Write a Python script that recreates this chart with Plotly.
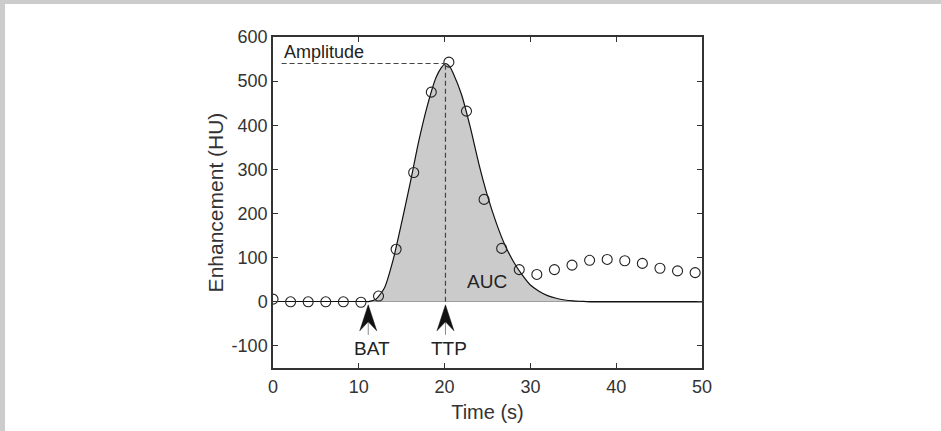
import plotly.graph_objects as go

# Measured samples (time in s, enhancement in HU)
time_s = [0, 2.05, 4.1, 6.15, 8.2, 10.25, 12.3, 14.35, 16.4, 18.45, 20.5, 22.55,
          24.6, 26.65, 28.7, 30.75, 32.8, 34.85, 36.9, 38.95, 41.0, 43.05, 45.1, 47.15, 49.2]
enh_hu = [6, 0, 0, 0, 0, -1, 13, 119, 293, 475, 543, 432,
          232, 121, 73, 62, 73, 83, 94, 96, 93, 87, 76, 70, 66]

# Fitted bolus curve
fit_t = [11.0, 12.0, 13.0, 14.0, 15.0, 16.0, 17.0, 18.0, 19.0, 19.6, 20.1, 20.6, 21.0, 22.0,
         23.0, 24.0, 25.0, 26.0, 27.0, 28.0, 29.0, 30.0, 31.0, 32.0, 33.0, 34.0, 35.0, 36.0,
         37.0, 38.0, 50.0]
fit_y = [0, 6, 32, 95, 180, 270, 365, 445, 508, 530, 540, 533, 518, 468,
         395, 312, 240, 180, 130, 92, 62, 38, 24, 14, 8, 4, 2, 1,
         0, 0, 0]

BAT = 11.1
TTP = 20.1
AMP = 540
AMP_LINE_START = 1.0

x_ticks = [0, 10, 20, 30, 40, 50]
y_ticks = [-100, 0, 100, 200, 300, 400, 500, 600]
y_tick_text = ["-100", "0", "100", "200", "300", "400", "500", "600"]

FONT = "Arial, Liberation Sans, sans-serif"
W, H = 941, 431
ML, MR, MT, MB = 273, 239, 37, 63

fig = go.Figure()

fig.add_trace(go.Scatter(
    x=fit_t, y=fit_y, mode="lines", line=dict(color="#111", width=1.2, shape="spline", smoothing=0.6),
    fill="tozeroy", fillcolor="#cbcbcb", hoverinfo="skip", showlegend=False))

fig.add_trace(go.Scatter(
    x=time_s, y=enh_hu, mode="markers",
    marker=dict(symbol="circle-open", size=10, color="#222", line=dict(width=1.1)),
    showlegend=False))

# dashed amplitude / TTP guides
fig.add_shape(type="line", x0=AMP_LINE_START, x1=TTP, y0=AMP, y1=AMP,
              line=dict(color="#444", width=1.2, dash="5px,3px"))
fig.add_shape(type="line", x0=TTP, x1=TTP, y0=0, y1=AMP,
              line=dict(color="#444", width=1.2, dash="5px,3px"))

# arrows (pixel-sized glyphs anchored at BAT/TTP on the baseline)
for xv, lab in [(BAT, "BAT"), (TTP, "TTP")]:
    fig.add_shape(type="line", xref="x", yref="y", xsizemode="pixel", ysizemode="pixel",
                  xanchor=xv, yanchor=0, x0=0, x1=0, y0=-20, y1=-33,
                  line=dict(color="#888", width=1))
    fig.add_shape(type="path", xref="x", yref="y", xsizemode="pixel", ysizemode="pixel",
                  xanchor=xv, yanchor=0, path="M0,-3 L8.5,-29 L0,-20 L-8.5,-29 Z",
                  fillcolor="#111", line=dict(color="#111", width=0.5))
    fig.add_annotation(x=xv, y=0, text=lab, showarrow=False, xanchor="center", yanchor="middle",
                       yshift=-47, xshift=4, font=dict(family=FONT, size=19, color="#222"))

fig.add_annotation(x=AMP_LINE_START, y=AMP, text="Amplitude", showarrow=False, xanchor="left",
                   yanchor="bottom", yshift=-1, font=dict(family=FONT, size=18, color="#222"))
fig.add_annotation(x=24.9, y=46, text="AUC", showarrow=False, xanchor="center", yanchor="middle",
                   font=dict(family=FONT, size=19, color="#222"))

# grey frame bands
pw, ph = W - ML - MR, H - MT - MB
fig.add_shape(type="rect", xref="paper", yref="paper", x0=-ML / pw, x1=(W - ML) / pw,
              y0=(H - MB - 4) / ph, y1=(H - MB) / ph, fillcolor="#cccccc", line=dict(width=0), layer="below")
fig.add_shape(type="rect", xref="paper", yref="paper", x0=-ML / pw, x1=(5 - ML) / pw,
              y0=-MB / ph, y1=(H - MB) / ph, fillcolor="#cccccc", line=dict(width=0), layer="below")

axis_common = dict(showline=True, linecolor="#333", linewidth=1.5, mirror="allticks", ticks="inside",
                   ticklen=5, tickcolor="#333", showgrid=False,
                   tickfont=dict(family=FONT, size=18, color="#333"))

fig.update_xaxes(range=[0, 50], tickvals=x_ticks, zeroline=False, ticklabelstandoff=2,
                 title=dict(text="Time (s)", font=dict(family=FONT, size=20, color="#333"), standoff=9),
                 **axis_common)
fig.update_yaxes(range=[-150, 600], tickvals=y_ticks, ticktext=y_tick_text,
                 zeroline=True, zerolinecolor="#111", zerolinewidth=1.2,
                 title=dict(text="Enhancement (HU)", font=dict(family=FONT, size=21, color="#333"), standoff=2),
                 **axis_common)

fig.update_layout(width=W, height=H, margin=dict(l=ML, r=MR, t=MT, b=MB, pad=0),
                  paper_bgcolor="white", plot_bgcolor="white", showlegend=False)

fig.write_html("out.html")
